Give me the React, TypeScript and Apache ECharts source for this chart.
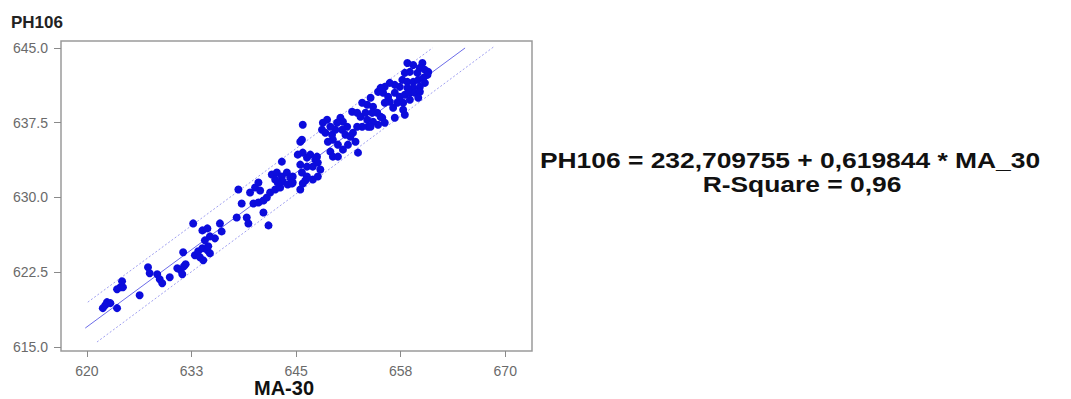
import React, { useEffect, useRef } from "react";
import * as echarts from "echarts";

const xTickValues = [620, 632.5, 645, 657.5, 670];
const xTickLabels = ["620", "633", "645", "658", "670"];
const yTickValues = [615, 622.5, 630, 637.5, 645];
const yTickLabels = ["615.0", "622.5", "630.0", "637.5", "645.0"];

const maValues = [
  621.9, 622.4, 622.8, 622.2, 623.6, 624.0, 624.3, 624.2, 623.6, 626.3,
  627.3, 627.5, 628.4, 628.7, 629.0, 629.9, 630.8, 631.2, 631.6, 631.4,
  631.8, 631.5, 632.9, 633.3, 633.5, 633.9, 633.8, 634.4, 634.7, 634.5,
  632.7, 633.8, 634.4, 634.1, 635.3, 635.9, 636.1, 634.7, 637.9, 638.5,
  639.1, 639.3, 638.1, 639.5, 640.1, 640.5, 640.7, 639.9, 640.5, 641.1,
  641.5, 641.9, 642.5, 643.1, 641.1, 641.7, 642.1, 642.7, 643.3, 643.9,
  644.3, 643.4, 644.0, 644.6, 645.5, 642.8, 642.5, 643.3, 645.5, 645.2,
  645.8, 646.3, 646.7, 647.3, 645.5, 646.3, 647.0, 647.6, 645.8, 645.7,
  645.7, 646.3, 647.0, 647.6, 647.9, 646.1, 644.6, 644.5, 645.8, 647.5,
  650.3, 650.6, 651.1, 650.5, 650.9, 651.5, 651.8, 652.1, 652.4, 651.2,
  650.6, 650.0, 649.4, 649.3, 649.7, 649.9, 649.1, 648.7, 648.2, 648.1,
  648.5, 648.8, 649.1, 649.4, 650.0, 651.7, 652.3, 652.7, 653.3, 653.5,
  653.6, 652.9, 652.3, 654.8, 653.9, 652.9, 653.5, 654.2, 654.7, 655.1,
  658.3, 659.0, 660.1, 659.8, 660.4, 660.8, 660.7, 659.5, 658.6, 658.0,
  657.7, 658.3, 659.0, 659.6, 660.2, 660.4, 659.8, 659.0, 658.3, 657.4,
  656.8, 656.2, 655.6, 655.1, 655.4, 656.0, 656.8, 657.4, 658.0, 658.6,
  659.2, 659.8, 659.6, 658.6, 657.8, 657.1, 656.2, 655.6, 656.6, 657.8,
  658.0, 656.8, 654.1, 655.3, 654.8, 655.6, 654.2, 653.9,
];

const phValues = [
  618.9, 619.5, 619.4, 619.2, 618.9, 621.0, 621.0, 621.6, 620.8, 620.2,
  623.0, 622.4, 622.3, 621.8, 621.4, 622.0, 622.9, 622.7, 623.1, 622.3,
  623.3, 624.5, 624.2, 624.6, 624.0, 623.7, 624.9, 624.7, 624.4, 625.1,
  627.4, 626.7, 626.9, 625.7, 625.9, 627.4, 626.6, 626.1, 628.0, 629.4,
  628.0, 627.4, 630.8, 630.5, 631.0, 631.5, 630.7, 629.4, 629.5, 629.7,
  630.0, 630.5, 630.8, 631.0, 628.5, 627.2, 632.3, 632.5, 632.1, 632.5,
  632.0, 631.6, 631.3, 631.5, 630.8, 631.5, 631.8, 633.6, 635.6, 634.3,
  634.5, 634.0, 634.3, 633.8, 633.3, 633.1, 633.1, 633.5, 637.3, 635.8,
  632.5, 632.1, 631.8, 632.1, 632.8, 631.7, 632.1, 631.4, 631.4, 634.1,
  638.0, 637.6, 637.1, 636.8, 636.3, 636.1, 636.5, 635.6, 634.5, 635.3,
  634.8, 635.3, 635.8, 636.3, 636.8, 637.5, 637.1, 637.8, 637.5, 636.8,
  636.5, 635.6, 634.6, 634.1, 634.1, 638.6, 638.5, 638.1, 638.5, 637.8,
  637.1, 637.1, 637.1, 640.6, 640.0, 639.5, 639.3, 639.1, 638.5, 638.1,
  643.5, 643.3, 643.5, 643.0, 642.8, 642.6, 642.3, 642.5, 642.6, 642.5,
  641.8, 641.6, 641.6, 641.8, 642.0, 641.5, 641.1, 641.0, 641.0, 641.1,
  641.3, 641.5, 641.1, 641.0, 640.5, 640.1, 640.5, 640.1, 640.3, 640.5,
  640.5, 640.6, 640.0, 639.8, 639.5, 639.5, 639.6, 639.5, 639.0, 638.8,
  638.3, 638.0, 638.5, 638.0, 637.3, 637.5, 637.6, 637.1,
];

const fitLine = [
  [619.8, 616.9],
  [665.2, 645.0],
];
const upperBand = [
  [620.1, 619.5],
  [661.3, 645.0],
];
const lowerBand = [
  [621.2, 615.5],
  [668.6, 645.1],
];

const titleText = "PH106";
const xName = "MA-30";
const equationText = "PH106 = 232,709755 + 0,619844 * MA_30";
const rSquareText = "R-Square = 0,96";

export default function App() {
  const ref = useRef<HTMLDivElement>(null);
  useEffect(() => {
    document.body.style.margin = "0";
    const chart = echarts.init(ref.current!, null, { renderer: "svg" });
    const font = "'Liberation Sans', Arial, sans-serif";
    const scatterData = maValues.map((x, i) => [x, phValues[i]]);
    chart.setOption({
      animation: false,
      backgroundColor: "#ffffff",
      grid: {
        left: 61,
        top: 41,
        width: 471,
        height: 310,
        show: true,
        borderColor: "#9a9a9a",
        borderWidth: 1.5,
        backgroundColor: "#ffffff",
      },
      xAxis: {
        type: "value",
        min: 616.9,
        max: 673.2,
        splitLine: { show: false },
        axisLine: { show: false },
        axisTick: {
          show: true,
          customValues: xTickValues,
          length: 6,
          lineStyle: { color: "#8a8a8a", width: 1 },
        },
        axisLabel: {
          customValues: xTickValues,
          formatter: (v: number) => {
            const i = xTickValues.indexOf(v);
            return i >= 0 ? xTickLabels[i] : "";
          },
          color: "#6a6a6a",
          fontSize: 14,
          fontFamily: font,
          margin: 13,
        },
      },
      yAxis: {
        type: "value",
        min: 614.6,
        max: 645.7,
        splitLine: { show: false },
        axisLine: { show: false },
        axisTick: {
          show: true,
          customValues: yTickValues,
          length: 7,
          lineStyle: { color: "#8a8a8a", width: 1 },
        },
        axisLabel: {
          customValues: yTickValues,
          formatter: (v: number) => {
            const i = yTickValues.indexOf(v);
            return i >= 0 ? yTickLabels[i] : "";
          },
          color: "#6a6a6a",
          fontSize: 14,
          fontFamily: font,
          margin: 13,
        },
      },
      graphic: [
        {
          type: "text",
          left: 11,
          top: 14,
          style: { text: titleText, font: `bold 17px ${font}`, fill: "#222" },
        },
        {
          type: "text",
          x: 284,
          y: 388,
          style: {
            text: xName,
            font: `bold 20px ${font}`,
            fill: "#111",
            textAlign: "center",
            textVerticalAlign: "middle",
          },
        },
        {
          type: "text",
          x: 790,
          y: 160,
          scaleX: 1.2,
          style: {
            text: equationText,
            font: `bold 22px ${font}`,
            fill: "#111",
            textAlign: "center",
            textVerticalAlign: "middle",
          },
        },
        {
          type: "text",
          x: 802,
          y: 184,
          scaleX: 1.2,
          style: {
            text: rSquareText,
            font: `bold 22px ${font}`,
            fill: "#111",
            textAlign: "center",
            textVerticalAlign: "middle",
          },
        },
      ],
      series: [
        {
          type: "line",
          data: upperBand,
          showSymbol: false,
          lineStyle: { color: "#a0a0f0", width: 1, type: [2, 2] },
          z: 1,
        },
        {
          type: "line",
          data: lowerBand,
          showSymbol: false,
          lineStyle: { color: "#a0a0f0", width: 1, type: [2, 2] },
          z: 1,
        },
        {
          type: "line",
          data: fitLine,
          showSymbol: false,
          lineStyle: { color: "#6c6ce8", width: 1 },
          z: 1,
        },
        {
          type: "scatter",
          data: scatterData,
          symbol: "circle",
          symbolSize: 8,
          itemStyle: { color: "#0c0cdc", opacity: 1 },
          z: 3,
        },
      ],
    });
    return () => chart.dispose();
  }, []);
  return <div ref={ref} style={{ width: 1071, height: 399 }} />;
}
